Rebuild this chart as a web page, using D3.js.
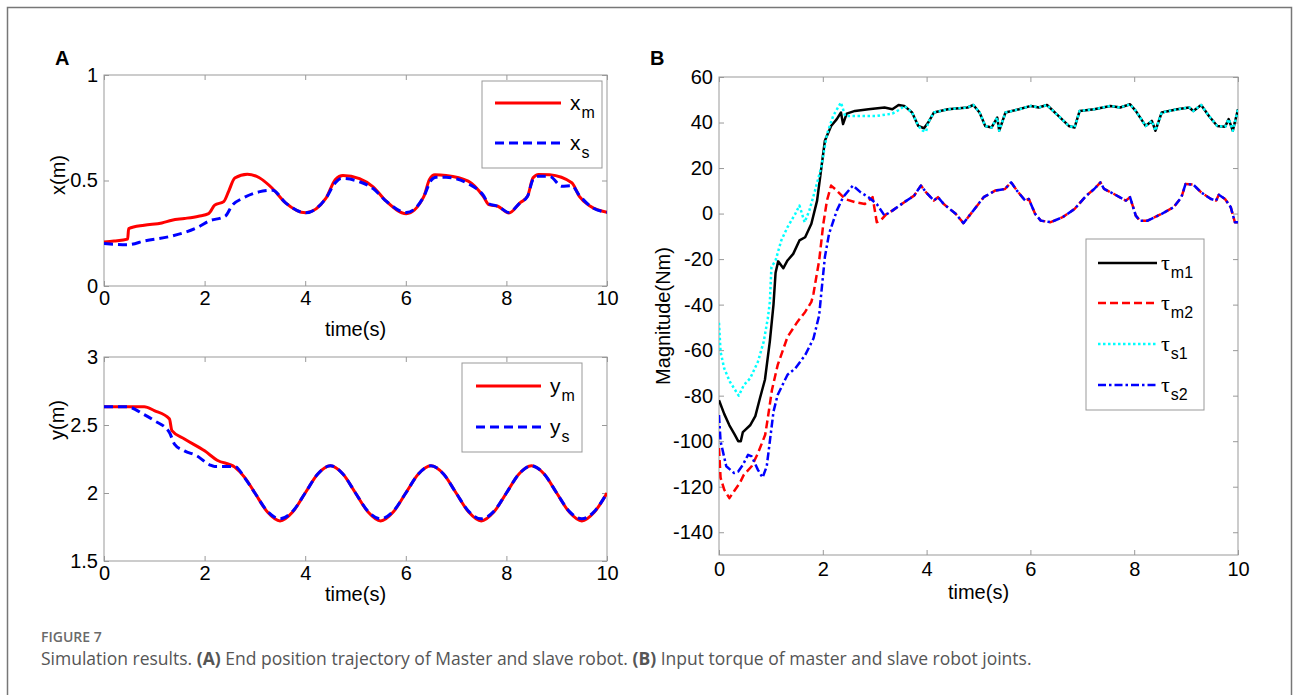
<!DOCTYPE html>
<html>
<head>
<meta charset="utf-8">
<script src="https://cdn.jsdelivr.net/npm/d3@7"></script>
<style>
  body { margin: 0; background: #fff; }
  svg text { font-family: "Liberation Sans", Arial, sans-serif; }
</style>
</head>
<body>
<svg id="fig" width="1293" height="695"></svg>
<script>
// ---- data: [time (s), value] ----
const timeTicks = [0, 2, 4, 6, 8, 10];
const xTicksA = [0, 0.5, 1];
const yTicksA = [1.5, 2, 2.5, 3];
const torqueTicks = [-140, -120, -100, -80, -60, -40, -20, 0, 20, 40, 60];

const xMaster = [[0,0.209],[0.2,0.213],[0.47,0.222],[0.49,0.272],[0.8,0.288],[1.15,0.299],[1.35,0.312],
  [1.6,0.32],[1.88,0.331],[2.08,0.343],[2.2,0.383],[2.38,0.4],[2.48,0.45],[2.6,0.512],[2.85,0.53],
  [3.08,0.514],[3.35,0.462],[3.61,0.394],[4.01,0.347],[4.41,0.415],[4.6,0.505],[4.75,0.524],[5.08,0.509],
  [5.35,0.47],[5.61,0.402],[6.01,0.343],[6.36,0.425],[6.47,0.505],[6.58,0.527],[6.8,0.524],[7.24,0.497],
  [7.54,0.425],[7.65,0.386],[7.83,0.378],[8.05,0.346],[8.27,0.394],[8.42,0.425],[8.53,0.513],[8.64,0.529],
  [8.86,0.527],[9.3,0.489],[9.45,0.425],[9.67,0.378],[10,0.349]];

const xSlave = [[0,0.201],[0.48,0.196],[0.81,0.214],[1.35,0.237],[1.88,0.28],[2.08,0.307],[2.41,0.331],
  [2.55,0.383],[2.75,0.415],[3.08,0.446],[3.35,0.454],[3.61,0.394],[4.01,0.347],[4.41,0.415],[4.6,0.49],
  [4.72,0.51],[5.08,0.494],[5.35,0.462],[5.61,0.402],[6.01,0.348],[6.36,0.425],[6.5,0.5],[6.6,0.515],
  [6.8,0.515],[7.24,0.485],[7.54,0.43],[7.65,0.39],[7.83,0.378],[8.05,0.348],[8.27,0.394],[8.42,0.425],
  [8.53,0.505],[8.64,0.52],[8.86,0.52],[9.1,0.473],[9.3,0.475],[9.45,0.43],[9.67,0.378],[10,0.349]];

const yMaster = [[0,2.635],[0.8,2.635],[1.0,2.606],[1.3,2.545],[1.35,2.458],[1.6,2.397],[2.0,2.31],
  [2.25,2.241],[2.6,2.19],[2.8,2.113],[3.0,2.0],[3.25,1.86],[3.5,1.795],[3.75,1.86],[4.0,2.0],[4.25,2.14],
  [4.5,2.2],[4.75,2.14],[5.0,2.0],[5.25,1.86],[5.5,1.795],[5.75,1.86],[6.0,2.0],[6.25,2.14],[6.5,2.2],
  [6.75,2.14],[7.0,2.0],[7.25,1.86],[7.5,1.795],[7.75,1.86],[8.0,2.0],[8.25,2.14],[8.5,2.2],[8.75,2.14],
  [9.0,2.0],[9.25,1.86],[9.5,1.795],[9.75,1.86],[10,2.0]];

const ySlave = [[0,2.635],[0.45,2.635],[0.8,2.576],[1.0,2.532],[1.3,2.446],[1.4,2.36],[1.6,2.31],
  [1.85,2.273],[2.1,2.207],[2.2,2.195],[2.6,2.195],[2.8,2.11],[3.0,2.0],[3.25,1.865],[3.5,1.81],
  [3.75,1.865],[4.0,2.0],[4.25,2.14],[4.5,2.2],[4.75,2.14],[5.0,2.0],[5.25,1.865],[5.5,1.81],[5.75,1.865],
  [6.0,2.0],[6.25,2.14],[6.5,2.2],[6.75,2.14],[7.0,2.0],[7.25,1.865],[7.5,1.81],[7.75,1.865],[8.0,2.0],
  [8.25,2.14],[8.5,2.2],[8.75,2.14],[9.0,2.0],[9.25,1.865],[9.5,1.81],[9.75,1.865],[10,2.0]];

// joint 1 torques (master and slave overlap after ~4 s)
const tau1Tail = [[4.41,45.8],[4.79,46.6],[4.9,47.7],[5.02,44.4],[5.13,38.5],[5.25,37.8],[5.36,42.2],
  [5.4,36.4],[5.52,44.4],[5.78,45.8],[6.01,47.3],[6.16,46.6],[6.32,47.7],[6.54,42.9],[6.74,38.5],
  [6.85,37.8],[6.95,45.1],[7.23,45.8],[7.54,47.3],[7.73,46.6],[7.92,48],[8.03,45.1],[8.22,38.5],
  [8.34,40.7],[8.41,36.4],[8.53,44.4],[8.83,45.8],[9.06,46.6],[9.14,45.1],[9.29,47.7],[9.44,42.9],
  [9.6,38.5],[9.75,38.1],[9.82,41.5],[9.9,36.4],[10,45.8]];

const tauM1 = [[0,-82],[0.1,-88],[0.2,-93],[0.3,-97],[0.37,-100],[0.42,-100],[0.46,-96],[0.6,-93],
  [0.7,-89],[0.79,-81],[0.885,-73],[0.98,-56],[1.05,-40],[1.09,-26],[1.14,-21],[1.24,-24],[1.32,-20.6],
  [1.43,-17.7],[1.55,-11.8],[1.66,-10.4],[1.78,-4.5],[1.89,5.7],[2.04,32],[2.16,38.5],[2.27,41.5],
  [2.35,44.4],[2.39,39.3],[2.46,43.9],[2.62,45.1],[2.88,45.8],[3.19,46.6],[3.34,45.8],[3.46,47.7],
  [3.57,47.3],[3.72,44.4],[3.84,38.5],[3.95,37.5],[4.03,40],[4.14,44.4]].concat(tau1Tail);

const tauS1 = [[0,-48],[0.03,-60.7],[0.1,-68],[0.21,-73.9],[0.38,-80],[0.48,-75.3],[0.6,-72.4],
  [0.75,-65.1],[0.86,-56.4],[0.94,-46.1],[0.98,-38.8],[1.01,-23.5],[1.09,-20.6],[1.2,-11.8],[1.32,-6],
  [1.47,-0.1],[1.55,3.5],[1.65,-3.8],[1.74,1.3],[1.85,10.1],[1.97,20.3],[2.08,34.9],[2.2,42.9],
  [2.31,47.3],[2.35,48.8],[2.43,42.9],[2.62,42.9],[3.04,42.9],[3.34,43.9],[3.49,45.8],[3.57,47.3],
  [3.72,44.4],[3.84,38.5],[3.92,36.5],[3.99,36],[4.03,40],[4.14,44.4]].concat(tau1Tail);

// joint 2 torques (master and slave overlap after ~3.3 s)
const tau2Tail = [[3.34,1.3],[3.57,5],[3.76,7.9],[3.89,12.3],[3.99,9.3],[4.14,5.7],[4.22,7.2],[4.33,4.2],
  [4.56,-0.1],[4.71,-4.2],[4.9,1.3],[5.1,7.2],[5.32,10.1],[5.51,10.8],[5.63,13.7],[5.74,10.1],[5.9,5.7],
  [5.97,6.4],[6.09,-0.1],[6.2,-3.1],[6.39,-3.8],[6.62,-1.6],[6.85,2],[7.08,7.9],[7.23,10.8],[7.35,13.7],
  [7.42,10.8],[7.61,8.6],[7.84,5.7],[7.92,7.2],[8.03,-0.9],[8.11,-3.1],[8.26,-3.1],[8.53,-0.1],[8.76,2.8],
  [8.91,7.2],[8.99,13],[9.14,12.7],[9.29,9.3],[9.48,6.4],[9.58,5.7],[9.63,8.3],[9.75,6.4],[9.86,2.8],
  [9.94,-3.8],[10,-3.8]];

const tauM2 = [[0,-103],[0.03,-116],[0.1,-121.3],[0.2,-125],[0.29,-122],[0.4,-118.4],[0.48,-114.7],
  [0.63,-111],[0.75,-105.3],[0.89,-97.2],[0.94,-89.9],[1.02,-77.5],[1.13,-66.6],[1.32,-54.2],[1.51,-47.6],
  [1.66,-43.2],[1.78,-38.8],[1.82,-35.2],[1.93,-20.6],[2.01,-4.5],[2.08,5.7],[2.16,12.3],[2.27,10.1],
  [2.43,6.4],[2.62,5],[2.81,4.2],[2.96,7.2],[3.04,-3.8],[3.11,-3.1],[3.23,-0.1]].concat(tau2Tail);

const tauS2 = [[0,-88.5],[0.03,-100],[0.14,-111],[0.29,-114],[0.37,-113.3],[0.46,-110.4],[0.56,-106],
  [0.63,-106.7],[0.75,-112.6],[0.84,-116],[0.92,-111],[0.98,-100],[1.05,-87],[1.13,-79.7],[1.32,-70.8],
  [1.47,-68],[1.66,-62.2],[1.82,-54.9],[1.93,-44.7],[1.97,-35.2],[2.04,-19.1],[2.12,-8.9],[2.27,1.3],
  [2.39,7.2],[2.58,12.3],[2.73,9.3],[2.88,7.2],[3.04,4.2],[3.19,-0.9]].concat(tau2Tail);

const svg = d3.select("#fig");
const boxColor = "#999";

// outer frame of the figure
svg.append("rect")
    .attr("x", 7.5).attr("y", 7.5)
    .attr("width", 1284).attr("height", 720)
    .attr("fill", "none").attr("stroke", "#777").attr("stroke-width", 1.5);

let clipId = 0;

function panel(cfg) {
    let x = d3.scaleLinear().domain([0, 10]).range([cfg.left, cfg.right]);
    let y = d3.scaleLinear().domain(cfg.yDomain).range([cfg.bottom, cfg.top]);
    let g = svg.append("g");
    let fmt = d => String(d);

    function styleAxis(sel) {
        sel.select(".domain").remove();
        sel.selectAll(".tick line").attr("stroke", boxColor);
        sel.selectAll(".tick text")
            .attr("fill", "#000")
            .style("font-size", "20px")
            .style("font-family", "\"Liberation Sans\", Arial, sans-serif");
    }

    g.append("g")
        .attr("transform", `translate(0,${cfg.bottom})`)
        .call(d3.axisBottom(x).tickValues(timeTicks).tickSizeInner(-5).tickSizeOuter(0).tickPadding(cfg.xPad || 5).tickFormat(fmt))
        .call(styleAxis);
    g.append("g")
        .attr("transform", `translate(0,${cfg.top})`)
        .call(d3.axisTop(x).tickValues(timeTicks).tickSizeInner(-5).tickSizeOuter(0).tickFormat(""))
        .call(styleAxis);
    g.append("g")
        .attr("transform", `translate(${cfg.left},0)`)
        .call(d3.axisLeft(y).tickValues(cfg.yTicks).tickSizeInner(-5).tickSizeOuter(0).tickPadding(6).tickFormat(fmt))
        .call(styleAxis);
    g.append("g")
        .attr("transform", `translate(${cfg.right},0)`)
        .call(d3.axisRight(y).tickValues(cfg.yTicks).tickSizeInner(-5).tickSizeOuter(0).tickFormat(""))
        .call(styleAxis);

    g.append("rect")
        .attr("x", cfg.left).attr("y", cfg.top)
        .attr("width", cfg.right - cfg.left).attr("height", cfg.bottom - cfg.top)
        .attr("fill", "none").attr("stroke", boxColor);

    // lines, clipped to the axes box
    let id = "clip" + (clipId++);
    g.append("clipPath").attr("id", id)
        .append("rect")
        .attr("x", cfg.left).attr("y", cfg.top)
        .attr("width", cfg.right - cfg.left).attr("height", cfg.bottom - cfg.top);

    let line = d3.line()
        .x(d => x(d[0]))
        .y(d => y(d[1]))
        .curve(cfg.curve || d3.curveLinear);

    g.append("g")
        .attr("clip-path", `url(#${id})`)
        .selectAll("path")
        .data(cfg.series)
        .enter()
        .append("path")
            .attr("d", d => line(d.data))
            .attr("fill", "none")
            .attr("stroke", d => d.color)
            .attr("stroke-width", d => d.width)
            .attr("stroke-dasharray", d => d.dash || null)
            .attr("stroke-linejoin", "round");

    // axis labels
    g.append("text")
        .attr("x", (cfg.left + cfg.right) / 2)
        .attr("y", cfg.xLabelY)
        .attr("text-anchor", "middle")
        .style("font-size", "20px")
        .text("time(s)");
    g.append("text")
        .attr("transform", `translate(${cfg.yLabelX},${cfg.yLabelY}) rotate(-90)`)
        .attr("text-anchor", "middle")
        .attr("dy", "0.35em")
        .style("font-size", "20px")
        .text(cfg.yLabel);

    // legend
    let lg = cfg.legend;
    g.append("rect")
        .attr("x", lg.x).attr("y", lg.y)
        .attr("width", lg.w).attr("height", lg.h)
        .attr("fill", "#fff").attr("stroke", boxColor);
    cfg.series.forEach((s, i) => {
        let ly = lg.rows[i];
        g.append("line")
            .attr("x1", lg.x1).attr("x2", lg.x2)
            .attr("y1", ly).attr("y2", ly)
            .attr("stroke", s.color)
            .attr("stroke-width", s.width)
            .attr("stroke-dasharray", s.dash || null);
        let t = g.append("text")
            .attr("x", lg.tx)
            .attr("y", ly + 7);
        t.append("tspan")
            .style("font-family", lg.symbolFont || "\"Liberation Sans\", Arial, sans-serif")
            .style("font-size", lg.mainSize)
            .text(s.name);
        t.append("tspan")
            .attr("dy", 8)
            .attr("dx", 1)
            .style("font-size", "16px")
            .text(s.sub);
    });

    // panel letter
    if (cfg.letter) {
        g.append("text")
            .attr("x", cfg.letter[1]).attr("y", cfg.letter[2])
            .style("font-size", "20px")
            .style("font-weight", "bold")
            .text(cfg.letter[0]);
    }
}

// A, top: x position
panel({
    left: 104, right: 607, top: 75, bottom: 286,
    yDomain: [0, 1], yTicks: xTicksA,
    xLabelY: 336, yLabel: "x(m)", yLabelX: 58, yLabelY: 175,
    curve: d3.curveMonotoneX,
    letter: ["A", 55, 65],
    series: [
        {name: "x", sub: "m", data: xMaster, color: "#ff0000", width: 3},
        {name: "x", sub: "s", data: xSlave, color: "#0000ff", width: 3, dash: "9,5"}
    ],
    legend: {x: 482, y: 81, w: 120, h: 87, x1: 495, x2: 561, tx: 570, rows: [103, 143], mainSize: "21px"}
});

// A, bottom: y position
panel({
    left: 104, right: 607, top: 357, bottom: 561,
    yDomain: [1.5, 3], yTicks: yTicksA,
    xLabelY: 601, yLabel: "y(m)", yLabelX: 57, yLabelY: 420,
    curve: d3.curveMonotoneX,
    series: [
        {name: "y", sub: "m", data: yMaster, color: "#ff0000", width: 3},
        {name: "y", sub: "s", data: ySlave, color: "#0000ff", width: 3, dash: "9,5"}
    ],
    legend: {x: 462, y: 363, w: 120, h: 89, x1: 476, x2: 541, tx: 550, rows: [386, 427], mainSize: "21px"}
});

// B: joint torques
panel({
    left: 719, right: 1238, top: 77, bottom: 555,
    yDomain: [-150, 60], yTicks: torqueTicks,
    xLabelY: 599, xPad: 7, yLabel: "Magnitude(Nm)", yLabelX: 663, yLabelY: 316,
    letter: ["B", 650, 65],
    series: [
        {name: "\u03c4", sub: "m1", data: tauM1, color: "#000000", width: 2.5},
        {name: "\u03c4", sub: "m2", data: tauM2, color: "#ff0000", width: 2.5, dash: "8,4"},
        {name: "\u03c4", sub: "s1", data: tauS1, color: "#00ffff", width: 2.5, dash: "2.5,2.5"},
        {name: "\u03c4", sub: "s2", data: tauS2, color: "#0000ff", width: 2.5, dash: "8,3,2.5,3"}
    ],
    legend: {x: 1086, y: 239, w: 118, h: 171, x1: 1098, x2: 1157, tx: 1161, rows: [263, 303, 344, 385],
             mainSize: "22px", symbolFont: "\"Liberation Serif\", serif"}
});

// caption
svg.append("text")
    .attr("x", 41).attr("y", 642)
    .style("font-family", "\"Open Sans\", sans-serif")
    .style("font-size", "14px")
    .style("font-weight", 600)
    .attr("fill", "#6a6a6a")
    .text("FIGURE 7");

let cap = svg.append("text")
    .attr("x", 41).attr("y", 665)
    .style("font-family", "\"Open Sans\", sans-serif")
    .style("font-size", "17.5px")
    .attr("fill", "#555");
[["Simulation results. ", 400], ["(A)", 700], [" End position trajectory of Master and slave robot. ", 400],
 ["(B)", 700], [" Input torque of master and slave robot joints.", 400]].forEach(p => {
    cap.append("tspan").style("font-weight", p[1]).text(p[0]);
});
</script>
</body>
</html>
